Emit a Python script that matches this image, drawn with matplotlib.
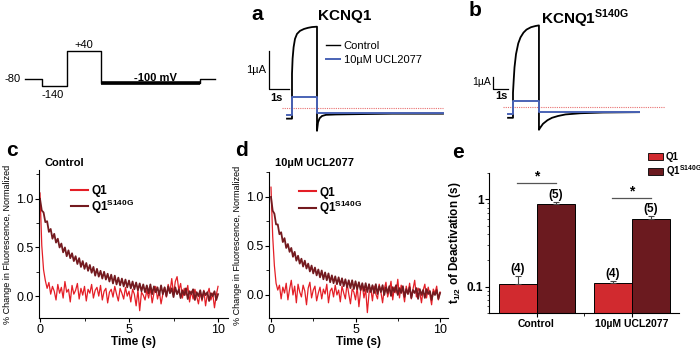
import numpy as np
import matplotlib.pyplot as plt
from matplotlib.ticker import AutoMinorLocator, FixedLocator, NullFormatter, LogLocator
from matplotlib.lines import Line2D
from matplotlib.patches import Patch

plt.rcParams['font.family'] = ['Liberation Sans', 'DejaVu Sans']
plt.rcParams['mathtext.fontset'] = 'custom'
plt.rcParams['mathtext.rm'] = 'Liberation Sans'
plt.rcParams['mathtext.bf'] = 'Liberation Sans:bold'

# ---- voltage protocol (schematic step heights) ----
proto_t = [0, 0.85, 2.1, 3.8, 8.75, 9.5]
proto_h = [0, -7, 28, -4, 0]
proto_lbl = ['-80', '-140', '+40', '-100 mV']

# ---- current traces, panel a (KCNQ1), time s / current uA ----
a_ctrl_t = [-0.25, 0, 0, 0.03, 0.08, 0.15, 0.25, 0.4, 0.6, 0.8, 1.0, 1.25, 1.25, 1.3, 1.38, 1.5, 1.7, 2.2, 3.5, 5.0, 7.55]
a_ctrl_i = [-0.28, -0.28, 0.9, 1.3, 1.6, 1.82, 1.95, 2.03, 2.08, 2.11, 2.13, 2.14, -0.6, -0.38, -0.27, -0.21, -0.18, -0.17, -0.16, -0.15, -0.15]
a_ucl_t = [-0.25, 0, 0, 1.25, 1.25, 7.55]
a_ucl_i = [-0.18, -0.18, 0.29, 0.29, -0.12, -0.12]

# ---- current traces, panel b (KCNQ1 S140G) ----
b_ctrl_t = [-0.33, 0, 0, 0.05, 0.1, 0.2, 0.35, 0.5, 0.7, 0.9, 1.2, 1.5, 1.73, 1.73, 1.8, 2.0, 2.3, 2.6, 3.0, 3.5, 4.5, 6.0, 8.4]
b_ctrl_i = [-0.9, -0.9, 1.2, 2.3, 3.3, 4.4, 5.3, 5.8, 6.2, 6.45, 6.65, 6.75, 6.8, -1.9, -1.75, -1.4, -1.1, -0.9, -0.75, -0.62, -0.52, -0.46, -0.43]
b_ucl_t = [-0.33, 0, 0, 1.73, 1.73, 8.4]
b_ucl_i = [-0.58, -0.58, 0.5, 0.5, -0.45, -0.45]

# ---- fluorescence, 0..10 s, 0.1 s steps ----
c_q1 = [1.06, 0.52, 0.27, 0.16, 0.08, 0.14, 0.02, 0.10, 0.05, -0.04,
        0.12, 0.03, 0.09, -0.02, 0.15, 0.04, 0.07, -0.06, 0.11, 0.02,
        0.06, 0.13, -0.03, 0.08, 0.01, 0.10, -0.05, 0.07, 0.03, 0.12,
        -0.02, 0.06, 0.09, 0.00, 0.11, -0.04, 0.05, 0.08, -0.07, 0.04,
        0.07, -0.01, 0.10, 0.02, -0.05, 0.08, 0.03, -0.03, 0.09, 0.00,
        0.05, -0.06, 0.07, 0.02, -0.10, 0.06, -0.15, 0.04, 0.01, -0.04,
        0.06, -0.02, 0.08, -0.07, 0.03, 0.10, -0.03, 0.05, -0.08, 0.02,
        0.09, -0.01, 0.12, 0.04, 0.18, 0.02, 0.15, 0.20, 0.06, 0.13,
        -0.02, 0.08, 0.01, 0.11, -0.06, 0.05, -0.03, 0.07, 0.00, -0.08,
        0.04, -0.05, 0.06, -0.10, 0.02, 0.08, -0.04, 0.03, -0.12, 0.01, 0.10]
c_s140g = [1.00, 0.88, 0.86, 0.76, 0.77, 0.66, 0.69, 0.59, 0.64, 0.55,
           0.59, 0.50, 0.54, 0.45, 0.50, 0.41, 0.47, 0.39, 0.44, 0.36,
           0.41, 0.33, 0.39, 0.30, 0.36, 0.28, 0.34, 0.26, 0.32, 0.24,
           0.30, 0.21, 0.28, 0.20, 0.26, 0.18, 0.25, 0.17, 0.23, 0.15,
           0.22, 0.13, 0.21, 0.12, 0.19, 0.11, 0.18, 0.10, 0.17, 0.09,
           0.16, 0.08, 0.15, 0.07, 0.14, 0.06, 0.13, 0.05, 0.12, 0.04,
           0.11, 0.03, 0.12, 0.02, 0.10, 0.04, 0.09, 0.01, 0.11, 0.02,
           0.09, 0.00, 0.10, 0.03, 0.08, -0.01, 0.09, 0.02, 0.07, -0.02,
           0.06, 0.01, 0.08, -0.03, 0.05, 0.02, 0.07, -0.04, 0.04, 0.00,
           0.06, -0.03, 0.05, 0.01, 0.04, -0.05, 0.03, 0.00, 0.05, -0.04, 0.02]
d_q1 = [1.10, 0.60, 0.30, 0.12, 0.05, 0.10, -0.04, 0.08, 0.02, 0.12,
        -0.05, 0.06, 0.15, 0.00, 0.09, -0.08, 0.11, 0.03, -0.02, 0.10,
        0.04, -0.10, 0.07, 0.13, -0.03, 0.05, 0.09, -0.06, 0.02, 0.08,
        -0.04, 0.06, 0.01, 0.11, -0.08, 0.04, 0.07, -0.02, 0.10, 0.00,
        0.05, -0.07, 0.09, 0.02, -0.04, 0.12, 0.01, -0.09, 0.06, 0.03,
        -0.05, 0.08, -0.12, 0.04, 0.10, -0.03, 0.06, -0.18, 0.02, 0.07,
        -0.06, 0.09, 0.01, -0.04, 0.11, 0.03, -0.08, 0.06, 0.13, -0.02,
        0.05, 0.14, -0.05, 0.08, 0.02, 0.16, -0.03, 0.10, 0.04, -0.07,
        0.09, 0.01, 0.12, -0.04, 0.06, 0.15, -0.02, 0.07, 0.03, -0.08,
        0.05, 0.11, -0.03, 0.08, 0.00, -0.10, 0.06, 0.02, 0.09, -0.05, 0.03]
d_s140g = [1.00, 0.86, 0.83, 0.72, 0.72, 0.62, 0.64, 0.54, 0.58, 0.48,
           0.52, 0.44, 0.48, 0.39, 0.44, 0.35, 0.40, 0.32, 0.37, 0.29,
           0.35, 0.27, 0.32, 0.24, 0.30, 0.22, 0.28, 0.20, 0.26, 0.18,
           0.25, 0.16, 0.23, 0.15, 0.22, 0.13, 0.20, 0.12, 0.19, 0.11,
           0.18, 0.10, 0.17, 0.09, 0.16, 0.08, 0.15, 0.07, 0.15, 0.06,
           0.14, 0.06, 0.13, 0.05, 0.12, 0.04, 0.12, 0.03, 0.11, 0.03,
           0.10, 0.02, 0.11, 0.01, 0.09, 0.03, 0.10, 0.00, 0.08, 0.02,
           0.09, -0.01, 0.08, 0.03, 0.10, 0.00, 0.07, 0.02, 0.09, -0.02,
           0.06, 0.01, 0.08, -0.03, 0.05, 0.02, 0.07, -0.04, 0.06, 0.00,
           0.05, -0.03, 0.06, 0.01, 0.04, -0.05, 0.03, 0.00, 0.05, -0.04, 0.02]

# ---- t1/2 of deactivation ----
groups = ['Control', '10µM UCL2077']
t_q1 = [0.108, 0.110]
t_q1_err = [0.025, 0.006]
t_s140g = [0.877, 0.593]
t_s140g_err = [0.05, 0.057]
n_q1 = ['(4)', '(4)']
n_s140g = ['(5)', '(5)']

RED = '#e41e26'
DARK = '#741a1f'
BAR_RED = '#d12a2f'
BAR_DARK = '#6b1a1f'
BLUE = '#4a63b5'

fig = plt.figure(figsize=(7, 3.5), dpi=100)
W, H = 700, 350


def px_axes(x0, y0, x1, y1):
    return fig.add_axes([x0 / W, 1 - y1 / H, (x1 - x0) / W, (y1 - y0) / H])


def ftext(x, y, s, **kw):
    fig.text(x / W, 1 - y / H, s, **kw)


# protocol
ax = px_axes(0, 20, 230, 140)
ax.axis('off')
ax.set_xlim(-1.25, 10.25)
ax.set_ylim(-61, 59)
ax.step(proto_t, proto_h + [proto_h[-1]], where='post', color='black', lw=1.0)
ax.plot([proto_t[3], proto_t[4]], [proto_h[3], proto_h[3]], color='black', lw=2.6, solid_capstyle='butt')
ftext(21, 79, proto_lbl[0], ha='right', va='center', fontsize=8)
ftext(53, 95, proto_lbl[1], ha='center', va='center', fontsize=8)
ftext(84, 45, proto_lbl[2], ha='center', va='center', fontsize=8)
ftext(155, 78, proto_lbl[3], ha='center', va='center', fontsize=8, fontweight='bold')

# panel a
ax = px_axes(240, 10, 460, 140)
ax.axis('off')
ax.set_xlim(-2.6, 8.4)
ax.set_ylim(-0.842, 2.579)
ax.plot([-0.5, 7.55], [0, 0], color='#e87070', lw=0.8, ls=(0, (1, 1)))
ax.plot(a_ctrl_t, a_ctrl_i, color='black', lw=1.3)
ax.plot(a_ucl_t, a_ucl_i, color=BLUE, lw=1.4)
ax.plot([-1.15, -1.15, -0.15], [1.5, 0.5, 0.5], color='black', lw=0.9)
ax.text(-1.3, 1.0, '1µA', ha='right', va='center', fontsize=8)
ax.text(-0.8, 0.4, '1s', ha='center', va='top', fontsize=8, fontweight='bold')
ax.legend([Line2D([], [], color='black', lw=1), Line2D([], [], color=BLUE, lw=1.4)],
          ['Control', '10µM UCL2077'], loc='upper left', bbox_to_anchor=(0.39, 0.76),
          frameon=False, fontsize=8, handlelength=1.3, handletextpad=0.3,
          labelspacing=0.35, borderpad=0, borderaxespad=0)
ftext(257, 14, 'a', ha='center', va='center', fontsize=15, fontweight='bold')
ftext(345, 16, 'KCNQ1', ha='center', va='center', fontsize=11, fontweight='bold')

# panel b
ax = px_axes(475, 10, 695, 140)
ax.axis('off')
ax.set_xlim(-2.533, 12.133)
ax.set_ylim(-2.75, 8.083)
ax.plot([-0.667, 10.13], [0, 0], color='#e87070', lw=0.8, ls=(0, (1, 1)))
ax.plot(b_ctrl_t, b_ctrl_i, color='black', lw=1.3)
ax.plot(b_ucl_t, b_ucl_i, color=BLUE, lw=1.4)
ax.plot([-1.333, -1.333, -0.333], [2.5, 1.5, 1.5], color='black', lw=0.9)
ax.text(-1.5, 2.1, '1µA', ha='right', va='center', fontsize=7.5)
ax.text(-0.75, 1.3, '1s', ha='center', va='top', fontsize=8, fontweight='bold')
ftext(475, 11, 'b', ha='center', va='center', fontsize=15, fontweight='bold')
ftext(585, 19, r'KCNQ1$^{\mathbf{S140G}}$', ha='center', va='center', fontsize=11, fontweight='bold')


def trace_panel(rect, xlim, ylim, q1, s140g, title, label, tx):
    ax = px_axes(*rect)
    t = np.linspace(0, 10, len(q1))
    ax.plot(t, q1, color=RED, lw=0.9)
    ax.plot(t, s140g, color=DARK, lw=1.3)
    ax.set_xlim(*xlim)
    ax.set_ylim(*ylim)
    for s in ['top', 'right']:
        ax.spines[s].set_visible(False)
    for s in ['left', 'bottom']:
        ax.spines[s].set_linewidth(0.8)
    ax.set_xticks([0, 5, 10])
    ax.set_yticks([0.0, 0.5, 1.0])
    ax.set_yticklabels(['0.0', '0.5', '1.0'])
    ax.xaxis.set_minor_locator(AutoMinorLocator(2))
    ax.yaxis.set_minor_locator(AutoMinorLocator(2))
    ax.tick_params(which='major', length=3, width=0.8, labelsize=9, pad=1)
    ax.tick_params(which='minor', length=2, width=0.6)
    ax.set_xlabel('Time (s)', fontsize=8.5, fontweight='bold', labelpad=0)
    ax.set_ylabel('% Change in Fluorescence, Normalized', fontsize=6.5, labelpad=3)
    ax.legend([Line2D([], [], color=RED, lw=1.5), Line2D([], [], color=DARK, lw=1.5)],
              ['Q1', r'Q1$^{\mathbf{S140G}}$'], loc='upper left', bbox_to_anchor=(0.17, 0.9),
              frameon=False, prop={'size': 8.5, 'weight': 'bold'}, handlelength=1.4,
              handletextpad=0.3, labelspacing=0.05, borderpad=0, borderaxespad=0)
    ftext(rect[0] + 6, 163, title, ha='left', va='center', fontsize=8, fontweight='bold')
    ftext(tx, 150, label, ha='center', va='center', fontsize=15, fontweight='bold')


trace_panel((39, 170, 228, 318), (-0.056, 10.56), (-0.225, 1.296), c_q1, c_s140g, 'Control', 'c', 12)
trace_panel((269, 172, 448, 318), (-0.118, 10.47), (-0.235, 1.255), d_q1, d_s140g, '10µM UCL2077', 'd', 241)

# panel e
ax = px_axes(489, 173, 679, 313)
x = np.arange(len(groups))
ax.bar(x - 0.2, t_q1, width=0.4, color=BAR_RED, edgecolor='black', lw=0.7,
       yerr=[[0, 0], t_q1_err], error_kw=dict(ecolor='#444444', elinewidth=0.8, capsize=2, capthick=0.8))
ax.bar(x + 0.2, t_s140g, width=0.4, color=BAR_DARK, edgecolor='black', lw=0.7,
       yerr=[[0, 0], t_s140g_err], error_kw=dict(ecolor='#444444', elinewidth=0.8, capsize=2, capthick=0.8))
ax.set_yscale('log')
ax.set_xlim(-0.5, 1.5)
ax.set_ylim(0.05, 2)
for s in ['top', 'right']:
    ax.spines[s].set_visible(False)
for s in ['left', 'bottom']:
    ax.spines[s].set_linewidth(0.8)
ax.yaxis.set_major_locator(FixedLocator([0.1, 1]))
ax.set_yticklabels(['0.1', '1'], fontweight='bold')
ax.yaxis.set_minor_locator(LogLocator(base=10, subs=np.arange(2, 10)))
ax.yaxis.set_minor_formatter(NullFormatter())
ax.set_xticks(x)
ax.set_xticklabels(groups, fontweight='bold', fontsize=7.5)
ax.xaxis.set_minor_locator(FixedLocator([0.5]))
ax.tick_params(axis='y', which='major', length=3, width=0.8, labelsize=8.5, pad=1)
ax.tick_params(axis='y', which='minor', length=1.5, width=0.5)
ax.tick_params(axis='x', which='major', length=3, width=0.8, pad=1.5)
ax.tick_params(axis='x', which='minor', length=2, width=0.6)
ax.set_ylabel(r'$\mathbf{t_{1/2}}$ of Deactivation (s)', fontsize=8.5, fontweight='bold', labelpad=3)
for i in range(len(groups)):
    ax.annotate(n_q1[i], (x[i] - 0.2, t_q1[i] + t_q1_err[i]), xytext=(0, 0.5), textcoords='offset points',
                ha='center', va='bottom', fontsize=8.5, fontweight='bold')
    ax.annotate(n_s140g[i], (x[i] + 0.2, t_s140g[i] + t_s140g_err[i]), xytext=(0, 0.5), textcoords='offset points',
                ha='center', va='bottom', fontsize=8.5, fontweight='bold')
sig_y = [1.52, 1.03]
for i in range(len(groups)):
    ax.plot([x[i] - 0.21, x[i] + 0.2], [sig_y[i], sig_y[i]], color='#555555', lw=0.9)
    ax.text(x[i], sig_y[i], '*', ha='center', va='bottom', fontsize=10, fontweight='bold')
fig.legend([Patch(facecolor=BAR_RED, edgecolor='black', lw=0.6), Patch(facecolor=BAR_DARK, edgecolor='black', lw=0.6)],
           ['Q1', r'Q1$^{\mathbf{S140G}}$'], loc='upper left', bbox_to_anchor=(648 / W, 1 - 152 / H),
           frameon=False, prop={'size': 7, 'weight': 'bold'}, handlelength=1.5, handleheight=0.7,
           handletextpad=0.3, labelspacing=0.1, borderpad=0, borderaxespad=0)
ftext(458, 152, 'e', ha='center', va='center', fontsize=15, fontweight='bold')

fig.savefig('out.png', dpi=100)
